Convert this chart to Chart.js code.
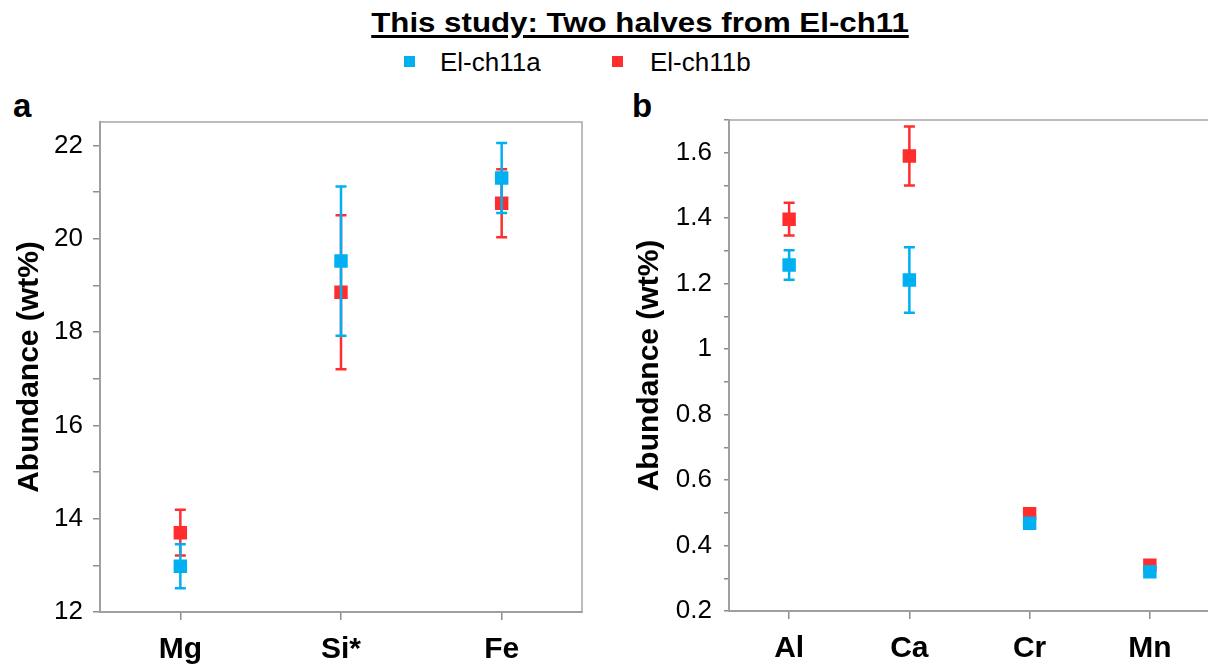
<!DOCTYPE html>
<html>
<head>
<meta charset="utf-8">
<script src="https://cdn.jsdelivr.net/npm/chart.js@4.4.1/dist/chart.umd.min.js"></script>
<style>
  body { margin: 0; width: 1208px; height: 666px; overflow: hidden; position: relative; background: #fff;
         font-family: 'Liberation Sans', Arial, sans-serif; color: #000; }
  #title { position: absolute; left: 0; width: 1280px; top: 8px; text-align: center; font-weight: bold;
           font-size: 27px; line-height: 30px; text-decoration: underline; text-decoration-thickness: 3px;
           text-underline-offset: 3px; transform: scaleX(1.157); transform-origin: 640px 0; }
  .leg { position: absolute; top: 49px; font-size: 26px; line-height: 26px; }
  .sw { position: absolute; width: 11px; height: 11px; top: 56px; }
  .plabel { position: absolute; top: 89px; font-weight: bold; font-size: 33px; line-height: 33px; }
  .panel { position: absolute; top: 0; height: 666px; }
</style>
</head>
<body>
<div id="title">This study: Two halves from El-ch11</div>
<div class="sw" style="left:404px;background:#00B0F0"></div>
<div class="leg" style="left:440px">El-ch11a</div>
<div class="sw" style="left:612px;background:#FF2D2D"></div>
<div class="leg" style="left:650px">El-ch11b</div>
<div class="plabel" style="left:13px">a</div>
<div class="plabel" style="left:632px">b</div>
<div class="panel" style="left:0;width:600px"><canvas id="chartA" width="600" height="666"></canvas></div>
<div class="panel" style="left:620px;width:590px"><canvas id="chartB" width="590" height="666"></canvas></div>
<script>
// panel a: major elements
const elementsA = ['Mg', 'Si*', 'Fe'];
const ch11aMajor = [12.98, 19.52, 21.30];
const ch11aMajorErr = [0.47, 1.60, 0.75];
const ch11bMajor = [13.70, 18.85, 20.76];
const ch11bMajorErr = [0.49, 1.65, 0.73];

// panel b: minor elements
const elementsB = ['Al', 'Ca', 'Cr', 'Mn'];
const ch11aMinor = [1.257, 1.211, 0.468, 0.320];
const ch11aMinorErr = [0.045, 0.100, 0, 0];
const ch11bMinor = [1.397, 1.590, 0.497, 0.340];
const ch11bMinorErr = [0.050, 0.090, 0, 0];

const BLUE = '#00B0F0';
const RED = '#FF2D2D';
const AXIS = '#8c8c8c';

// draws error bars just before each dataset's markers
const errorBars = {
    id: 'errorBars',
    beforeDatasetDraw(chart, args) {
        const ds = chart.data.datasets[args.index];
        if (!ds.errors) return;
        const yScale = chart.scales.y;
        const ctx = chart.ctx;
        ctx.save();
        ctx.strokeStyle = ds.backgroundColor;
        ctx.lineWidth = 2.5;
        args.meta.data.forEach((pt, i) => {
            const e = ds.errors[i];
            if (!e) return;
            const yTop = yScale.getPixelForValue(ds.data[i] + e);
            const yBot = yScale.getPixelForValue(ds.data[i] - e);
            ctx.beginPath();
            ctx.moveTo(pt.x, yTop);
            ctx.lineTo(pt.x, yBot);
            ctx.moveTo(pt.x - 5.5, yTop);
            ctx.lineTo(pt.x + 5.5, yTop);
            ctx.moveTo(pt.x - 5.5, yBot);
            ctx.lineTo(pt.x + 5.5, yBot);
            ctx.stroke();
        });
        ctx.restore();
    }
};

// frame around plot area
const frame = {
    id: 'frame',
    beforeDatasetsDraw(chart) {
        const a = chart.chartArea;
        const ctx = chart.ctx;
        ctx.save();
        ctx.strokeStyle = '#a6a6a6';
        ctx.lineWidth = 1.5;
        ctx.strokeRect(a.left, a.top, a.right - a.left, a.bottom - a.top);
        ctx.restore();
    }
};

function makeChart(id, labels, blue, blueErr, red, redErr, opts) {
    const ctx = document.getElementById(id).getContext('2d');
    return new Chart(ctx, {
        type: 'line',
        data: {
            labels: labels,
            datasets: [
                {
                    label: 'El-ch11a',
                    data: blue,
                    errors: blueErr,
                    backgroundColor: BLUE,
                    borderColor: BLUE,
                    showLine: false,
                    pointStyle: 'rect',
                    pointRadius: 9.5,
                    pointBorderWidth: 0
                },
                {
                    label: 'El-ch11b',
                    data: red,
                    errors: redErr,
                    backgroundColor: RED,
                    borderColor: RED,
                    showLine: false,
                    pointStyle: 'rect',
                    pointRadius: 9.5,
                    pointBorderWidth: 0
                }
            ]
        },
        options: {
            responsive: false,
            animation: false,
            layout: { padding: opts.padding, autoPadding: false },
            plugins: {
                legend: { display: false },
                title: { display: false },
                tooltip: { enabled: false }
            },
            scales: {
                x: {
                    type: 'category',
                    offset: true,
                    grid: { offset: false, drawOnChartArea: false, tickLength: 8, color: AXIS, lineWidth: 1.5 },
                    border: { color: AXIS, width: 2 },
                    ticks: { color: '#000', padding: 12, maxRotation: 0, autoSkip: false,
                             font: { family: 'Liberation Sans', size: 30, weight: 'bold' } },
                    afterFit: s => {
                        s.height = opts.xHeight;
                        s.paddingLeft = 0;
                        s.paddingRight = 0;
                    }
                },
                y: {
                    min: opts.min,
                    max: opts.max,
                    grid: { drawOnChartArea: false, tickLength: opts.tickLen, color: AXIS, lineWidth: 1.5 },
                    border: { color: AXIS, width: 2 },
                    ticks: {
                        stepSize: opts.step,
                        includeBounds: false,
                        autoSkip: false,
                        color: '#000',
                        padding: opts.tickPad,
                        font: { family: 'Liberation Sans', size: 26 },
                        callback: opts.tickLabel
                    },
                    title: {
                        display: true,
                        text: 'Abundance (wt%)',
                        color: '#000',
                        padding: { top: 12, bottom: 0 },
                        font: { family: 'Liberation Sans', size: 30, weight: 'bold' }
                    },
                    afterFit: s => { s.width = opts.yWidth; }
                }
            }
        },
        plugins: [frame, errorBars]
    });
}

makeChart('chartA', elementsA, ch11aMajor, ch11aMajorErr, ch11bMajor, ch11bMajorErr, {
    min: 12, max: 22.5, step: 1,
    padding: { left: 0, top: 122, right: 18, bottom: 0 },
    xHeight: 54, yWidth: 100, tickLen: 7, tickPad: 10,
    tickLabel: v => (Math.round(v) % 2 === 0 ? v : '')
});

makeChart('chartB', elementsB, ch11aMinor, ch11aMinorErr, ch11bMinor, ch11bMinorErr, {
    min: 0.2, max: 1.7, step: 0.1,
    padding: { left: 0, top: 120, right: 0, bottom: 0 },
    xHeight: 55, yWidth: 109, tickLen: 5, tickPad: 12,
    tickLabel: v => {
        const n = Math.round(v * 10);
        if (n % 2 !== 0) return '';
        return n === 10 ? '1' : (n / 10).toFixed(1);
    }
});
</script>
</body>
</html>
